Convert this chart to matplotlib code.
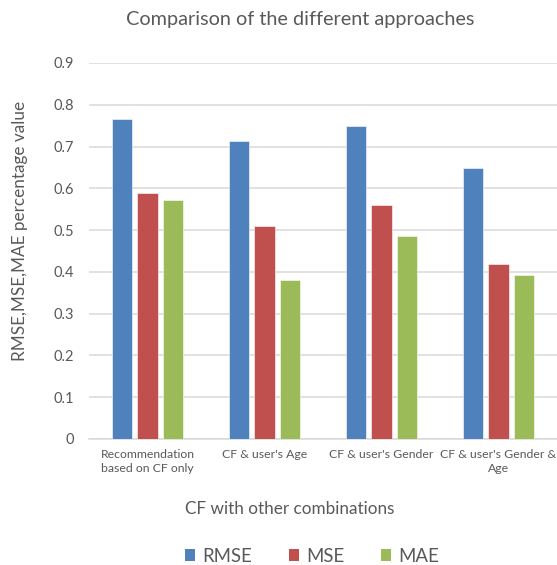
import numpy as np
import matplotlib
matplotlib.use('Agg')
import matplotlib.pyplot as plt
from matplotlib.patches import Patch

plt.rcParams['font.family'] = ['Lato', 'DejaVu Sans']

categories = ['Recommendation\nbased on CF only', "CF & user's Age",
              "CF & user's Gender", "CF & user's Gender &\nAge"]
rmse = [0.766, 0.714, 0.749, 0.648]
mse = [0.588, 0.511, 0.559, 0.420]
mae = [0.573, 0.380, 0.486, 0.392]

series = [('RMSE', rmse, '#4F81BD'), ('MSE', mse, '#C0504D'), ('MAE', mae, '#9BBB59')]
text_color = '#595959'

W, H = 557, 565
fig = plt.figure(figsize=(W / 100, H / 100), dpi=100)
# plot area: x 89..557 px, y 63..439 px
ax = fig.add_axes([89 / W, 1 - 439 / H, (W - 89) / W, (439 - 63) / H])

x = np.arange(len(categories))
width = 0.171
step = 0.222
for i, (name, vals, color) in enumerate(series):
    ax.bar(x + (i - 1) * step, vals, width, color=color, edgecolor='white',
           linewidth=0.4, label=name, zorder=3)

ax.set_xlim(-0.5, 3.5)
ax.set_ylim(0, 0.9)
ax.set_yticks(np.arange(0, 0.91, 0.1))
ax.set_yticklabels(['0'] + ['%.1f' % v for v in np.arange(0.1, 0.91, 0.1)])
ax.set_xticks(x)
ax.set_xticklabels(categories, fontsize=8.8, color=text_color, linespacing=1.4)
ax.tick_params(axis='y', labelsize=10.5, colors=text_color, length=0, pad=11)
ax.tick_params(axis='x', length=0, pad=7)

ax.grid(axis='y', color='#D9D9D9', linewidth=1.1, zorder=0)
for s in ['top', 'right', 'left']:
    ax.spines[s].set_visible(False)
ax.spines['bottom'].set_color('#D9D9D9')
ax.spines['bottom'].set_linewidth(1.1)

fig.text(300 / W, 1 - 20 / H, 'Comparison of the different approaches', fontsize=14.3,
         color=text_color, ha='center', va='center')
fig.text(290 / W, 1 - 509 / H, 'CF with other combinations', fontsize=12.3,
         color=text_color, ha='center', va='center')
fig.text(20 / W, 1 - 231 / H, 'RMSE,MSE,MAE percentage value', fontsize=12.3,
         color=text_color, ha='center', va='center', rotation=90)

handles = [Patch(facecolor=c, label=n) for n, v, c in series]
leg = fig.legend(handles=handles, loc='center', bbox_to_anchor=(312 / W, 1 - 556 / H),
                 ncol=3, frameon=False, fontsize=13.4, handlelength=0.55,
                 handleheight=0.55, handletextpad=0.35, columnspacing=2.0,
                 borderpad=0)
for t in leg.get_texts():
    t.set_color(text_color)

fig.savefig('out.png', dpi=100)
